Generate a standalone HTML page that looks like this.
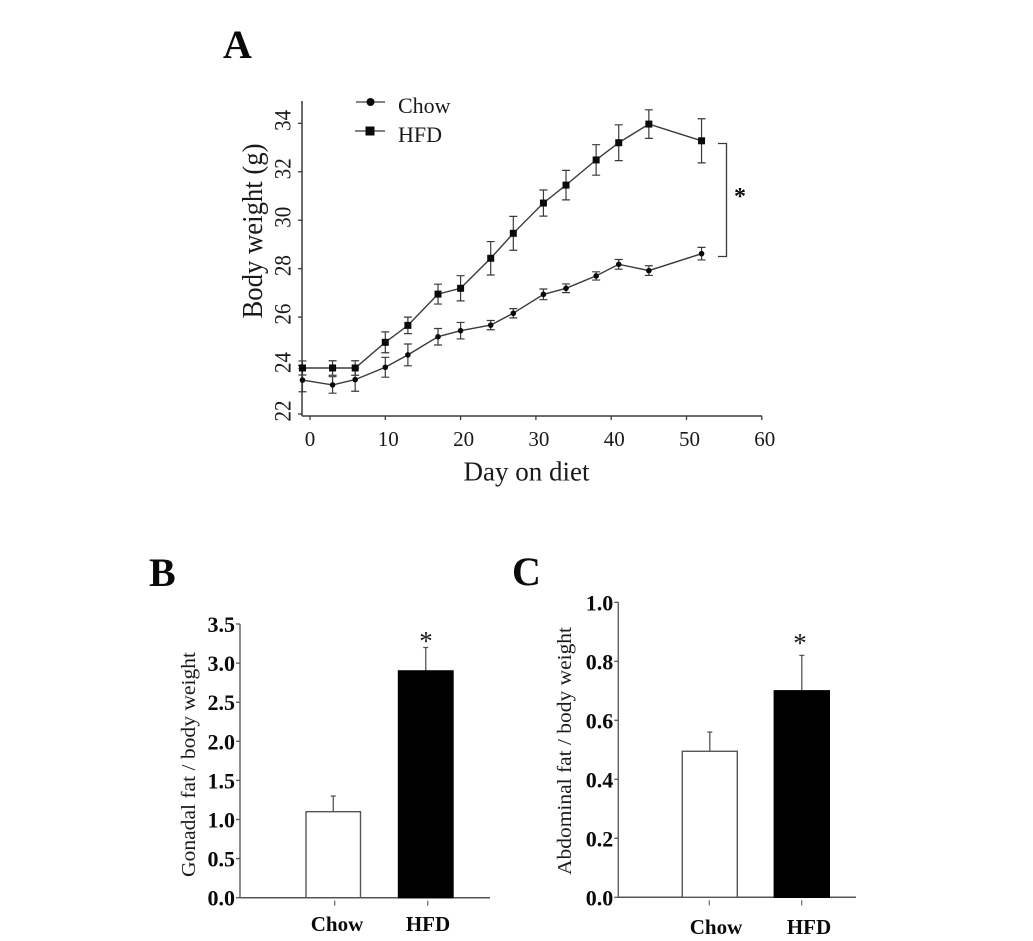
<!DOCTYPE html>
<html>
<head>
<meta charset="utf-8">
<style>
html,body{margin:0;padding:0;background:#fff;}
svg{display:block;filter:blur(0.35px);}
text{font-family:"Liberation Serif",serif;fill:#1a1a1a;}
.b{font-weight:bold;fill:#0a0a0a;}
</style>
</head>
<body>
<svg id="fig" xmlns="http://www.w3.org/2000/svg" width="1033" height="941" viewBox="0 0 1033 941">
  <rect x="0" y="0" width="1033" height="941" fill="#fff"/>
  <text class="b" x="223" y="58" font-size="40">A</text>
  <text class="b" x="149" y="586" font-size="40">B</text>
  <text class="b" x="512" y="585" font-size="40">C</text>
  <g id="panelA"></g>
  <g id="panelB"></g>
  <g id="panelC"></g>
</svg>
<script>
// Panel A data
const days = [-1, 3, 6, 10, 13, 17, 20, 24, 27, 31, 34, 38, 41, 45, 52];
const chowWeight = [23.4, 23.2, 23.42, 23.93, 24.44, 25.19, 25.44, 25.67, 26.16, 26.94, 27.19, 27.7, 28.18, 27.92, 28.62];
const chowError = [0.48, 0.34, 0.48, 0.41, 0.45, 0.34, 0.34, 0.19, 0.19, 0.22, 0.18, 0.17, 0.2, 0.2, 0.26];
const hfdWeight = [23.9, 23.9, 23.9, 24.96, 25.66, 26.95, 27.19, 28.43, 29.46, 30.71, 31.45, 32.49, 33.2, 33.97, 33.28];
const hfdError = [0.29, 0.3, 0.3, 0.43, 0.34, 0.41, 0.52, 0.69, 0.7, 0.54, 0.61, 0.63, 0.74, 0.59, 0.91];
const aXTicks = [0, 10, 20, 30, 40, 50, 60];
const aYTicks = [22, 24, 26, 28, 30, 32, 34];

// Panel B data
const bCategories = ["Chow", "HFD"];
const bValues = [1.1, 2.9];
const bErrors = [0.2, 0.3];
const bYTicks = ["0.0", "0.5", "1.0", "1.5", "2.0", "2.5", "3.0", "3.5"];

// Panel C data
const cCategories = ["Chow", "HFD"];
const cValues = [0.495, 0.7];
const cErrors = [0.065, 0.12];
const cYTicks = ["0.0", "0.2", "0.4", "0.6", "0.8", "1.0"];

const NS = "http://www.w3.org/2000/svg";
const INK = "#3a3a3a";

function make(parent, tag, props) {
  const el = document.createElementNS(NS, tag);
  for (const k in props) el.setAttribute(k, props[k]);
  parent.appendChild(el);
  return el;
}
function seg(parent, x1, y1, x2, y2, w, color) {
  return make(parent, "line", {x1: x1, y1: y1, x2: x2, y2: y2, stroke: color || INK, "stroke-width": w || 1.3});
}
function label(parent, str, x, y, size, anchor, cls) {
  const el = make(parent, "text", {x: x, y: y, "font-size": size, "text-anchor": anchor || "middle"});
  if (cls) el.setAttribute("class", cls);
  el.textContent = str;
  return el;
}
function vLabel(parent, str, cx, cy, size, len) {
  const el = make(parent, "text", {
    x: 0, y: 0, "font-size": size, "text-anchor": "middle",
    transform: "translate(" + cx + "," + cy + ") rotate(-90)"
  });
  if (len) {
    el.setAttribute("textLength", len);
    el.setAttribute("lengthAdjust", "spacingAndGlyphs");
  }
  el.textContent = str;
  return el;
}

// ---------- Panel A ----------
const ax = d => 310 + (d - 0) * 7.53;
const ay = v => 414 - (v - 22) * 24.22;

function drawSeries(root, name, vals, errs, shape) {
  const g = make(root, "g", {});
  
  
  const pts = days.map((d, i) => ax(d).toFixed(1) + "," + ay(vals[i]).toFixed(1)).join(" ");
  const line = make(g, "polyline", {points: pts, fill: "none", stroke: INK, "stroke-width": 1.4});
  
  
  days.forEach((d, i) => {
    const x = ax(d), hi = ay(vals[i] + errs[i]), lo = ay(vals[i] - errs[i]);
    const bar = make(g, "path", {
      d: "M" + (x - 4) + " " + hi + "H" + (x + 4) + "M" + x + " " + hi + "V" + lo + "M" + (x - 4) + " " + lo + "H" + (x + 4),
      fill: "none", stroke: INK, "stroke-width": 1.2
    });
    
    
    const y = ay(vals[i]);
    const mark = shape === "square"
      ? make(g, "rect", {x: x - 3.5, y: y - 3.5, width: 7, height: 7, fill: "#0a0a0a"})
      : make(g, "circle", {cx: x, cy: y, r: 2.8, fill: "#0a0a0a"});
    
    
  });
}

(function drawA() {
  const root = document.getElementById("panelA");
  const xAxis = seg(root, 302, 416, 762, 416, 1.5);
  
  
  const yAxis = seg(root, 302, 101, 302, 416, 1.5);
  
  
  aXTicks.forEach(t => {
    const tick = seg(root, ax(t), 416, ax(t), 420, 1.3);
    
    
    const txt = label(root, String(t), ax(t) + (t === 0 ? 0 : 3), 446, 21);
    
    
  });
  aYTicks.forEach(t => {
    const tick = seg(root, 298, ay(t), 302, ay(t), 1.3);
    
    
    const txt = vLabel(root, String(t), 290.5, ay(t) - 3, 23, 21);
    
    
  });
  const yt = vLabel(root, "Body weight (g)", 262, 231, 28, 175);
  
  
  const xt = label(root, "Day on diet", 526.5, 480.5, 27);
  
  

  drawSeries(root, "chow", chowWeight, chowError, "circle");
  drawSeries(root, "hfd", hfdWeight, hfdError, "square");

  const l1 = seg(root, 356, 102, 385, 102, 1.3);
  
  
  const m1 = make(root, "circle", {cx: 370.5, cy: 102, r: 4, fill: "#0a0a0a"});
  
  
  const t1 = label(root, "Chow", 398, 113, 22, "start");
  
  
  const l2 = seg(root, 355, 131, 385, 131, 1.3);
  
  
  const m2 = make(root, "rect", {x: 365.5, y: 126.5, width: 9, height: 9, fill: "#0a0a0a"});
  
  
  const t2 = label(root, "HFD", 398, 142, 22, "start");
  
  

  const br = make(root, "path", {d: "M718 143.5H726.5V256.5H718", fill: "none", stroke: INK, "stroke-width": 1.3});
  
  
  const st = label(root, "*", 740, 204, 24, "middle", "b");
  
  
})();

// ---------- Bar panels ----------
function drawBars(root, cats, vals, errs, ticks, o) {
  const yMax = parseFloat(ticks[ticks.length - 1]);
  const sy = v => o.y0 - (v / yMax) * (o.y0 - o.yTop);
  const xAxis = seg(root, o.xa, o.y0, o.xb, o.y0, 1.5, "#555");
  
  
  const yAxis = seg(root, o.xa, o.yTop, o.xa, o.y0, 1.5, "#666");
  
  
  ticks.forEach(t => {
    const y = sy(parseFloat(t));
    const tick = seg(root, o.xa - 4, y, o.xa, y, 1.3, "#555");
    
    
    const txt = label(root, t, o.xa - 5, y + 8, 22, "end", "b");
    
    
  });
  cats.forEach((c, i) => {
    const left = o.barX[i], cx = left + o.barW / 2;
    const err = seg(root, cx, sy(vals[i] + errs[i]), cx, sy(vals[i]), 1.3, "#555");
    
    
    const cap = seg(root, cx - 2.5, sy(vals[i] + errs[i]), cx + 2.5, sy(vals[i] + errs[i]), 1.3, "#555");
    
    
    const bar = make(root, "rect", {
      x: left, y: sy(vals[i]), width: o.barW, height: o.y0 - sy(vals[i]),
      fill: i === 0 ? "#fff" : "#000", stroke: i === 0 ? "#555" : "#000", "stroke-width": 1.4
    });
    
    
    const tick = seg(root, o.tickX[i], o.y0 + 3, o.tickX[i], o.y0 + 8, 1.2, "#666");
    
    
    const txt = label(root, c, o.labelX[i], o.labelY, 21, "middle", "b");
    
    
  });
  const yt = vLabel(root, o.title, o.titleX, o.titleY, 20.5, o.titleLen);
  
  
  const star = label(root, "*", o.starX, o.starY, 27);
  
  
}

drawBars(document.getElementById("panelB"), bCategories, bValues, bErrors, bYTicks, {
  xa: 240, xb: 490, y0: 897.7, yTop: 624,
  barX: [306, 398.5], barW: 54.5, tickX: [334.7, 427.7], labelX: [337, 428], labelY: 931,
  title: "Gonadal fat / body weight", titleX: 195, titleY: 764.5, titleLen: 225,
  starX: 426, starY: 650
});
drawBars(document.getElementById("panelC"), cCategories, cValues, cErrors, cYTicks, {
  xa: 618.3, xb: 856, y0: 897.3, yTop: 602.3,
  barX: [682.3, 774.3], barW: 55, tickX: [709.3, 801.7], labelX: [716, 809], labelY: 934,
  title: "Abdominal fat / body weight", titleX: 571, titleY: 751, titleLen: 248,
  starX: 800, starY: 652
});
</script>
</body>
</html>
